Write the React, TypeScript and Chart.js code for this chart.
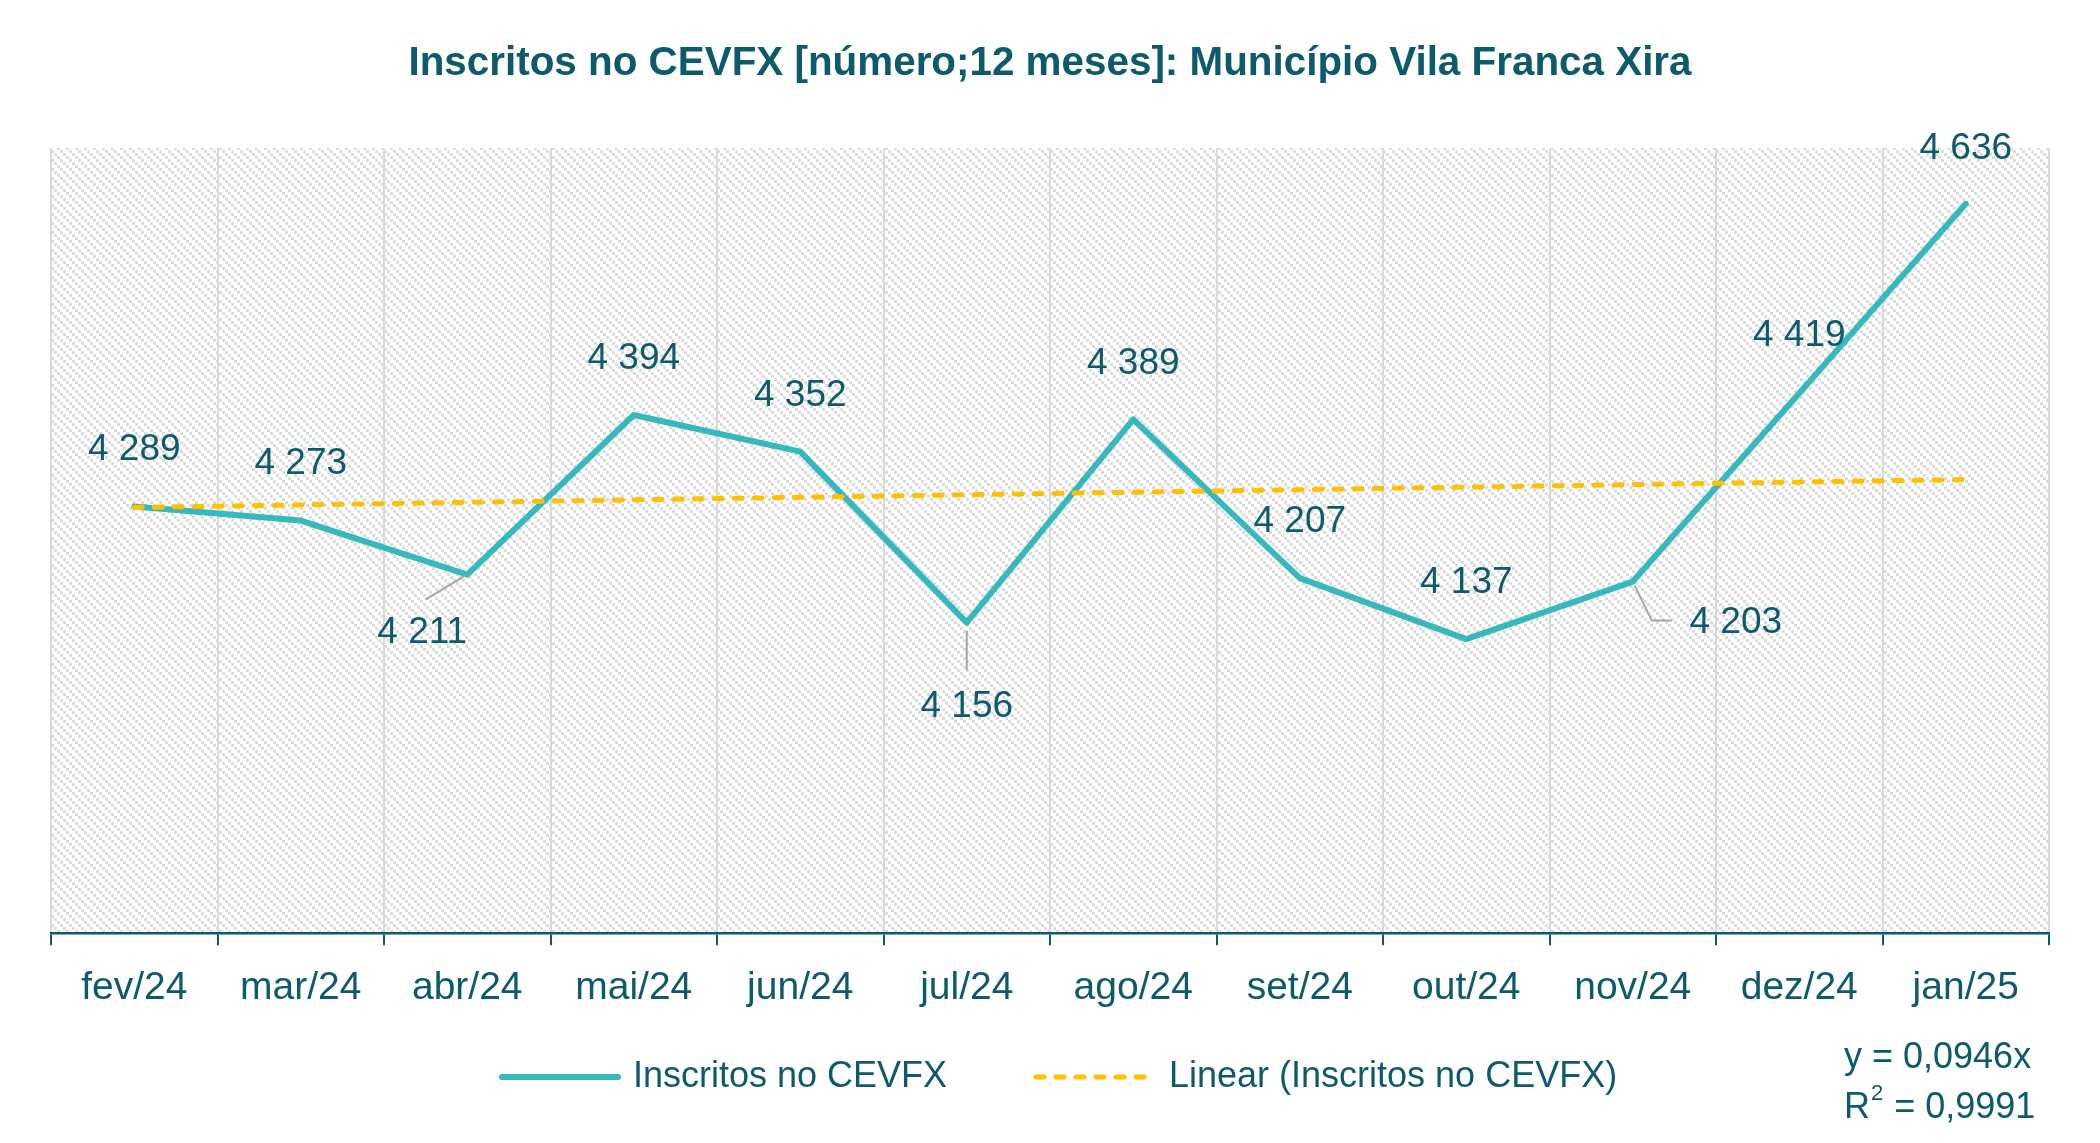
import React, { useEffect, useRef } from "react";
import { Chart, registerables } from "chart.js";

Chart.register(...registerables);

const TITLE = "Inscritos no CEVFX [número;12 meses]: Município Vila Franca Xira";
const MONTHS = ["fev/24", "mar/24", "abr/24", "mai/24", "jun/24", "jul/24", "ago/24", "set/24", "out/24", "nov/24", "dez/24", "jan/25"];
const INSCRITOS = [4289, 4273, 4211, 4394, 4352, 4156, 4389, 4207, 4137, 4203, 4419, 4636];
// linear trend line (start and end of the dashed line)
const TREND: (number | null)[] = [4288, null, null, null, null, null, null, null, null, null, null, 4320];
const SERIES_NAME = "Inscritos no CEVFX";
const TREND_NAME = "Linear (Inscritos no CEVFX)";
const EQ_LINE1 = "y = 0,0946x";
const EQ_R = "R";
const EQ_SUP = "2";
const EQ_REST = " = 0,9991";
const Y_MIN = 3800;
const Y_MAX = 4700;

// label placement (pixel offsets from each point) and leader lines
type Off = { dx: number; dy: number; leader?: [number, number][] };
const LABEL_OFFSETS: Off[] = [
  { dx: 0, dy: -57 },
  { dx: 0, dy: -57 },
  { dx: -45, dy: 58, leader: [[-42, 25], [-2, 1]] },
  { dx: 0, dy: -56 },
  { dx: 0, dy: -56 },
  { dx: 0, dy: 84, leader: [[0, 8], [0, 48]] },
  { dx: 0, dy: -56 },
  { dx: 0, dy: -56 },
  { dx: 0, dy: -56 },
  { dx: 103, dy: 41, leader: [[2, 4], [19, 39], [39, 39]] },
  { dx: 0, dy: -57 },
  { dx: 0, dy: -55 },
];

const TEXT = "#0D5A6A";
const TEAL = "#35B9BD";
const GOLD = "#FFC000";
const GRID = "#D9D9D9";
const FONT = "'Liberation Sans', Arial, sans-serif";

const fmt = (v: number) => String(v).replace(/\B(?=(\d{3})+(?!\d))/g, " ");

function makePattern(ctx: CanvasRenderingContext2D) {
  const c = document.createElement("canvas");
  c.width = 9;
  c.height = 9;
  const g = c.getContext("2d")!;
  g.fillStyle = "#ffffff";
  g.fillRect(0, 0, 9, 9);
  g.fillStyle = "#dcdcdc";
  for (let bx = 0; bx < 3; bx++) {
    for (let by = 0; by < 3; by++) {
      if ((bx - by + 3) % 3 === 0) g.fillRect(bx * 3, by * 3, 3, 3);
    }
  }
  return ctx.createPattern(c, "repeat");
}

const bgPlugin = {
  id: "bgHatch",
  beforeDraw(chart: any) {
    const { ctx, chartArea: a } = chart;
    ctx.save();
    ctx.fillStyle = "#ffffff";
    ctx.fillRect(0, 0, chart.width, chart.height);
    const p = makePattern(ctx);
    if (p) ctx.fillStyle = p;
    ctx.fillRect(a.left, a.top, a.right - a.left, a.bottom - a.top);
    ctx.restore();
  },
};

const labelPlugin = {
  id: "valueLabels",
  afterDatasetsDraw(chart: any) {
    const { ctx } = chart;
    const idx = chart.data.datasets.findIndex((d: any) => d.label === SERIES_NAME);
    const meta = chart.getDatasetMeta(idx);
    ctx.save();
    meta.data.forEach((pt: any, i: number) => {
      const o = LABEL_OFFSETS[i];
      if (o.leader) {
        ctx.strokeStyle = "#A6A6A6";
        ctx.lineWidth = 2;
        ctx.beginPath();
        o.leader.forEach(([lx, ly], k) => {
          if (k === 0) ctx.moveTo(pt.x + lx, pt.y + ly);
          else ctx.lineTo(pt.x + lx, pt.y + ly);
        });
        ctx.stroke();
      }
      ctx.fillStyle = TEXT;
      ctx.font = `37px ${FONT}`;
      ctx.textAlign = "center";
      ctx.textBaseline = "middle";
      ctx.fillText(fmt(INSCRITOS[i]), pt.x + o.dx, pt.y + o.dy);
    });
    ctx.restore();
  },
};

const decorPlugin = {
  id: "decor",
  afterDraw(chart: any) {
    const { ctx } = chart;
    ctx.save();
    // title
    ctx.fillStyle = TEXT;
    ctx.font = `bold 40.4px ${FONT}`;
    ctx.textAlign = "center";
    ctx.textBaseline = "middle";
    ctx.fillText(TITLE, 1050, 64);

    // legend
    const ly = 1077;
    ctx.lineCap = "round";
    ctx.strokeStyle = TEAL;
    ctx.lineWidth = 6;
    ctx.setLineDash([]);
    ctx.beginPath();
    ctx.moveTo(502, ly);
    ctx.lineTo(618, ly);
    ctx.stroke();
    ctx.font = `36px ${FONT}`;
    ctx.textAlign = "left";
    ctx.fillText(SERIES_NAME, 633, ly);

    ctx.strokeStyle = GOLD;
    ctx.lineWidth = 5;
    ctx.setLineDash([8, 12]);
    ctx.beginPath();
    ctx.moveTo(1036, ly);
    ctx.lineTo(1146, ly);
    ctx.stroke();
    ctx.setLineDash([]);
    ctx.fillText(TREND_NAME, 1169, ly);

    // trendline equation
    const ex = 1844;
    ctx.fillText(EQ_LINE1, ex, 1058);
    ctx.fillText(EQ_R, ex, 1108);
    const rw = ctx.measureText(EQ_R).width;
    ctx.font = `22px ${FONT}`;
    ctx.fillText(EQ_SUP, ex + rw + 1, 1094);
    const sw = ctx.measureText(EQ_SUP).width;
    ctx.font = `36px ${FONT}`;
    ctx.fillText(EQ_REST, ex + rw + sw + 2, 1108);
    ctx.restore();
  },
};

export default function App() {
  const ref = useRef<HTMLCanvasElement | null>(null);
  useEffect(() => {
    if (!ref.current) return;
    const chart = new Chart(ref.current, {
      type: "line",
      data: {
        labels: MONTHS,
        datasets: [
          {
            label: TREND_NAME,
            data: TREND,
            borderColor: GOLD,
            borderWidth: 5,
            borderDash: [8, 12],
            borderCapStyle: "round",
            pointRadius: 0,
            spanGaps: true,
            tension: 0,
            order: 0,
          },
          {
            label: SERIES_NAME,
            data: INSCRITOS,
            borderColor: TEAL,
            borderWidth: 6,
            borderCapStyle: "round",
            borderJoinStyle: "round",
            pointRadius: 0,
            tension: 0,
            order: 1,
          },
        ],
      },
      options: {
        responsive: false,
        animation: false,
        devicePixelRatio: 1,
        layout: { padding: { top: 148, left: 51, right: 51, bottom: 111 } },
        plugins: {
          legend: { display: false },
          title: { display: false },
          tooltip: { enabled: false },
        },
        scales: {
          x: {
            offset: true,
            grid: {
              offset: true,
              color: GRID,
              lineWidth: 2,
              tickColor: TEXT,
              tickWidth: 2,
              tickLength: 12,
              drawOnChartArea: true,
            },
            border: { display: true, color: TEXT, width: 2.5 },
            ticks: {
              color: TEXT,
              font: { family: FONT, size: 39 },
              padding: 20,
              maxRotation: 0,
              autoSkip: false,
            },
          },
          y: {
            display: false,
            min: Y_MIN,
            max: Y_MAX,
          },
        },
      },
      plugins: [bgPlugin, labelPlugin, decorPlugin],
    });
    return () => chart.destroy();
  }, []);
  return (
    <div style={{ position: "absolute", left: 0, top: 0, width: 2100, height: 1143, background: "#fff" }}>
      <canvas ref={ref} width={2100} height={1143} style={{ width: 2100, height: 1143, display: "block" }} />
    </div>
  );
}
